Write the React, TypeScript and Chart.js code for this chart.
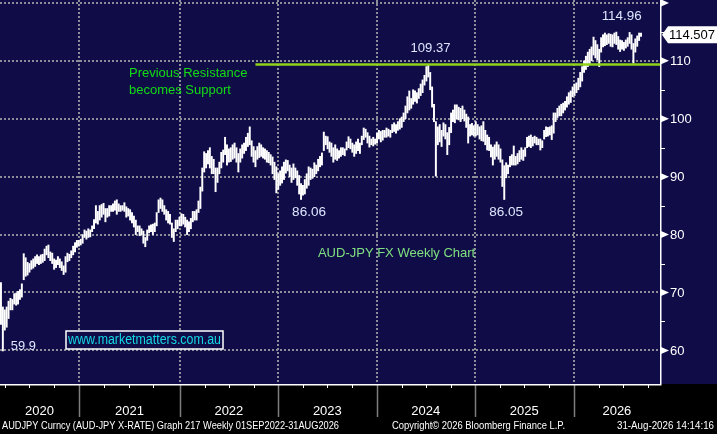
import { useEffect, useRef } from 'react'
import { Chart, registerables } from 'chart.js'

Chart.register(...registerables)

// weekly AUD/JPY bars, week 0 = 9 Mar 2020
const lows = [
  64.5, 59.9, 63.5, 64.0, 65.5, 67.0, 67.0, 68.0, 67.8, 68.0,
  68.8, 69.2, 72.2, 72.8, 73.0, 73.5, 74.0, 74.2, 74.5, 75.0,
  74.8, 75.0, 75.2, 75.5, 76.5, 76.0, 75.5, 75.0, 74.0, 74.3,
  74.8, 74.3, 73.8, 73.1, 73.5, 75.3, 75.5, 76.0, 76.5, 77.0,
  77.8, 78.0, 78.2, 78.5, 79.5, 79.2, 79.5, 79.6, 80.5, 81.0,
  82.0, 81.8, 82.5, 83.0, 83.5, 82.2, 83.0, 83.2, 84.0, 84.0,
  84.2, 83.5, 84.0, 84.0, 84.2, 84.0, 83.0, 83.2, 82.5, 82.0,
  81.3, 80.0, 80.5, 79.8, 80.0, 78.5, 77.9, 79.0, 80.3, 80.5,
  80.0, 80.5, 81.5, 83.8, 84.5, 84.0, 83.5, 82.5, 82.0, 81.8,
  79.5, 78.8, 80.5, 81.0, 81.5, 81.5, 81.8, 81.3, 80.0, 80.5,
  81.0, 82.2, 82.5, 82.5, 83.8, 84.5, 87.5, 90.8, 91.5, 92.2,
  91.5, 90.5, 90.5, 87.4, 89.0, 90.5, 91.5, 92.5, 93.8, 92.0,
  92.5, 92.6, 93.0, 93.2, 92.5, 90.8, 92.5, 93.2, 94.0, 94.5,
  95.2, 95.5, 93.5, 92.5, 91.7, 93.0, 93.3, 93.5, 93.2, 93.0,
  92.5, 92.4, 92.0, 90.5, 89.5, 87.2, 87.8, 88.5, 88.9, 89.5,
  90.6, 91.0, 90.0, 89.0, 89.5, 89.8, 88.5, 87.0, 86.06, 86.8,
  87.0, 88.0, 88.5, 89.5, 89.7, 90.0, 90.5, 91.0, 91.7, 92.0,
  94.5, 95.5, 94.8, 94.2, 93.5, 92.5, 93.0, 92.8, 93.2, 93.5,
  93.8, 93.6, 94.6, 95.0, 94.8, 94.2, 93.5, 94.0, 94.5, 94.0,
  95.5, 96.4, 96.8, 95.8, 95.1, 95.5, 95.3, 95.6, 95.8, 96.5,
  96.0, 96.3, 96.8, 96.8, 97.0, 96.8, 97.6, 97.8, 97.5, 98.0,
  98.2, 98.5, 99.5, 100.0, 101.0, 101.5, 101.8, 102.5, 103.0, 102.7,
  103.5, 104.0, 104.5, 105.8, 106.5, 107.2, 105.0, 102.0, 99.5, 90.1,
  95.5, 96.0, 95.2, 97.0, 96.5, 93.8, 95.5, 97.6, 99.5, 99.3,
  100.0, 99.8, 99.5, 100.0, 99.6, 98.5, 95.8, 97.0, 97.2, 97.0,
  97.0, 97.2, 96.5, 96.2, 96.1, 95.5, 94.6, 94.5, 93.4, 92.0,
  93.0, 93.5, 93.0, 92.5, 88.3, 86.05, 89.8, 90.5, 91.7, 92.0,
  92.0, 92.0, 92.2, 92.6, 93.0, 92.8, 93.5, 95.0, 95.2, 95.0,
  95.3, 95.8, 95.5, 95.5, 94.6, 95.0, 96.5, 96.9, 97.0, 97.2,
  96.4, 97.5, 99.5, 100.2, 100.5, 100.5, 101.0, 101.5, 102.0, 102.5,
  102.8, 103.8, 104.0, 104.5, 105.0, 105.5, 106.5, 108.0, 108.5, 109.0,
  109.5, 110.0, 111.0, 110.5, 110.2, 109.0, 111.5, 112.4, 112.6, 112.8,
  113.0, 112.5, 112.4, 113.0, 112.8, 112.0, 111.6, 112.0, 111.8, 112.2,
  112.5, 113.0, 112.0, 109.6, 111.5, 112.5, 113.5, 114.2,
]

const highs = [
  71.7, 67.5, 67.0, 67.5, 68.5, 69.0, 68.8, 69.8, 69.9, 70.2,
  70.5, 71.5, 76.7, 76.0, 75.2, 75.0, 75.5, 75.8, 76.2, 76.5,
  76.2, 76.5, 76.6, 77.5, 78.0, 78.2, 77.0, 76.8, 75.8, 75.6,
  76.2, 75.8, 75.3, 74.6, 76.2, 76.8, 76.6, 77.2, 78.0, 78.6,
  79.0, 79.0, 79.2, 80.0, 80.8, 80.6, 81.0, 80.8, 81.5, 82.6,
  85.0, 84.0, 85.0, 85.2, 85.4, 84.5, 84.5, 85.0, 85.0, 85.3,
  85.8, 86.0, 85.3, 85.0, 85.0, 85.5, 84.8, 84.5, 84.3, 83.8,
  83.2, 82.5, 81.5, 81.5, 81.0, 80.6, 79.5, 80.8, 81.5, 81.7,
  81.8, 82.0, 83.8, 86.0, 86.3, 86.0, 85.0, 84.3, 84.0, 83.5,
  82.0, 81.0, 82.5, 82.5, 83.0, 83.6, 83.5, 83.0, 82.5, 82.2,
  82.8, 84.0, 84.0, 84.3, 85.8, 88.2, 91.5, 94.3, 94.0, 94.5,
  95.0, 93.5, 93.0, 91.5, 91.5, 92.5, 94.2, 94.6, 96.8, 95.5,
  94.8, 95.0, 95.5, 95.8, 95.0, 94.0, 94.8, 95.5, 95.8, 96.8,
  97.5, 98.6, 96.2, 95.2, 94.5, 95.2, 95.8, 95.5, 95.0, 94.8,
  94.5, 94.2, 93.8, 93.4, 92.5, 91.7, 90.5, 91.0, 91.7, 92.5,
  92.9, 92.8, 92.0, 91.5, 92.2, 91.5, 91.0, 90.2, 88.8, 88.5,
  89.5, 90.5, 91.7, 91.5, 91.3, 92.4, 92.0, 93.0, 93.5, 94.1,
  97.7, 97.0, 96.9, 96.0, 95.8, 95.0, 95.5, 94.8, 94.5, 95.0,
  95.0, 94.8, 96.0, 96.9, 96.5, 95.8, 95.5, 96.0, 96.5, 95.8,
  97.0, 98.4, 98.2, 97.6, 97.0, 96.5, 96.8, 96.5, 97.5, 98.0,
  97.8, 98.0, 98.0, 98.4, 98.2, 98.0, 99.0, 99.3, 99.0, 99.5,
  100.0, 100.3, 101.0, 102.2, 103.8, 104.8, 103.5, 105.0, 104.8, 104.5,
  105.2, 106.0, 106.7, 107.5, 109.0, 109.37, 108.0, 105.5, 102.5, 99.5,
  98.6, 99.0, 98.0, 99.3, 99.0, 97.6, 98.5, 101.0, 101.5, 102.4,
  102.4, 102.0, 101.8, 102.2, 101.5, 100.8, 100.3, 99.0, 99.2, 98.8,
  99.5, 99.0, 98.6, 98.8, 99.5, 98.0, 97.2, 96.8, 95.5, 95.1,
  95.5, 96.0, 95.5, 94.8, 92.9, 91.9, 92.4, 92.0, 93.5, 93.8,
  95.3, 93.5, 94.0, 94.5, 95.0, 94.6, 95.0, 96.8, 97.0, 97.2,
  96.8, 97.0, 96.8, 96.5, 96.5, 96.2, 98.0, 98.6, 98.5, 98.6,
  98.8, 101.0, 101.0, 101.8, 102.2, 102.5, 102.7, 103.0, 103.8, 104.5,
  104.8, 105.5, 106.0, 106.2, 107.0, 108.0, 109.0, 110.0, 110.8, 111.5,
  112.0, 112.4, 114.1, 113.5, 112.8, 112.0, 114.0, 114.5, 114.8, 114.5,
  114.7, 114.6, 114.5, 114.8, 114.96, 114.2, 113.6, 113.5, 113.2, 113.6,
  114.0, 114.9, 114.5, 113.0, 113.8, 114.3, 114.8, 114.8,
]

const yearLabels = ['2020', '2021', '2022', '2023', '2024', '2025', '2026']
// week index where each new year starts
const yearStarts = [41.1, 94.2, 145.8, 197.9, 249.5, 301.6]
const yTicks = [60, 70, 80, 90, 100, 110, 120]
const yTickLabels = ['60', '70', '80', '90', '100', '110', '']

const supportLevel = 109.37
const supportFrom = 134
const lastPrice = 114.507

const peakNotes = [
  { text: '109.37', at: 226.2, value: 109.37 },
  { text: '114.96', at: 326.8, value: 114.96 },
]
const troughNotes = [
  { text: '86.06', at: 162.2, value: 86.06 },
  { text: '86.05', at: 266, value: 86.05 },
]
const startNote = { text: '59.9', at: 1, value: 59.9 }

const X_MIN = -0.5
const X_MAX = 347
const WEEKS_PER_QUARTER = 13.04

const NAVY = '#100c48'
const GRID = '#8e8e9a'
const FONT = '"Liberation Sans", Arial, sans-serif'

const frame = {
  id: 'bbgFrame',
  beforeDraw(chart: any) {
    const { ctx, width, height, chartArea } = chart
    ctx.save()
    ctx.fillStyle = '#000'
    ctx.fillRect(0, 0, width, height)
    ctx.fillStyle = NAVY
    ctx.fillRect(0, 0, width, chartArea.bottom)
    ctx.restore()
  },
  afterDraw(chart: any) {
    const { ctx, width, chartArea } = chart
    const xs = chart.scales.x
    const ys = chart.scales.y
    const { left, right, bottom } = chartArea
    const px = (v: number) => xs.getPixelForValue(v)
    const py = (v: number) => ys.getPixelForValue(v)

    ctx.save()

    // year separators + quarter ticks under the plot
    const bounds = [X_MIN, ...yearStarts, X_MAX]
    ctx.strokeStyle = '#7d7d7d'
    ctx.lineWidth = 1.5
    yearStarts.forEach((s) => {
      ctx.beginPath()
      ctx.moveTo(Math.round(px(s)) + 0.5, bottom)
      ctx.lineTo(Math.round(px(s)) + 0.5, bottom + 33)
      ctx.stroke()
    })
    ctx.strokeStyle = '#fff'
    ctx.lineWidth = 1
    for (let b = 0; b < bounds.length - 1; b++) {
      const from = b === 0 ? bounds[1] : bounds[b]
      for (let k = 1; k <= 3; k++) {
        const q = b === 0 ? from - k * WEEKS_PER_QUARTER : from + k * WEEKS_PER_QUARTER
        if (q <= X_MIN || q >= X_MAX) continue
        const qx = Math.round(px(q)) + 0.5
        ctx.beginPath()
        ctx.moveTo(qx, bottom)
        ctx.lineTo(qx, bottom + 4)
        ctx.stroke()
      }
    }

    // axis lines
    ctx.strokeStyle = '#fff'
    ctx.lineWidth = 1.5
    ctx.beginPath()
    ctx.moveTo(right + 0.75, 0)
    ctx.lineTo(right + 0.75, bottom + 1)
    ctx.moveTo(left, bottom + 0.75)
    ctx.lineTo(right + 1.5, bottom + 0.75)
    ctx.stroke()

    // right axis triangles, labels and minor ticks
    ctx.fillStyle = '#fff'
    ctx.strokeStyle = '#fff'
    ctx.font = `13px ${FONT}`
    ctx.textBaseline = 'middle'
    ctx.textAlign = 'left'
    yTicks.forEach((v, i) => {
      const y = py(v)
      ctx.beginPath()
      ctx.moveTo(right + 1, y - 3.5)
      ctx.lineTo(right + 9, y)
      ctx.lineTo(right + 1, y + 3.5)
      ctx.closePath()
      ctx.fill()
      if (yTickLabels[i]) ctx.fillText(yTickLabels[i], right + 10, y + 1)
      if (i < yTicks.length - 1) {
        const ym = Math.round(py((v + yTicks[i + 1]) / 2)) + 0.5
        ctx.lineWidth = 1
        ctx.beginPath()
        ctx.moveTo(right, ym)
        ctx.lineTo(right + 5, ym)
        ctx.stroke()
      }
    })

    // last price box
    const lp = py(lastPrice)
    ctx.fillStyle = '#fff'
    ctx.beginPath()
    ctx.moveTo(right + 2, lp)
    ctx.lineTo(right + 8, lp - 8.5)
    ctx.lineTo(width, lp - 8.5)
    ctx.lineTo(width, lp + 8.5)
    ctx.lineTo(right + 8, lp + 8.5)
    ctx.closePath()
    ctx.fill()
    ctx.fillStyle = '#000'
    ctx.font = `13px ${FONT}`
    ctx.fillText(lastPrice.toFixed(3), right + 9, lp + 0.5)

    // high / low labels
    ctx.fillStyle = '#dfe7ff'
    ctx.font = `13.5px ${FONT}`
    ctx.textAlign = 'center'
    peakNotes.forEach((n) => ctx.fillText(n.text, px(n.at), py(n.value) - 16, 40))
    troughNotes.forEach((n) => ctx.fillText(n.text, px(n.at), py(n.value) + 13, 34))
    ctx.textAlign = 'left'
    ctx.fillText(startNote.text, px(startNote.at) + 8, py(startNote.value) - 5, 25)

    // commentary
    ctx.fillStyle = '#14dc14'
    ctx.font = `13px ${FONT}`
    ctx.fillText('Previous Resistance', px(67.4), py(107.75))
    ctx.fillText('becomes Support', px(67.4), py(104.9))
    ctx.fillStyle = '#7fe07f'
    ctx.textAlign = 'center'
    ctx.fillText('AUD-JPY FX Weekly Chart', px(208.3), py(76.67))

    // watermark
    const wx = left + 66
    const wy = bottom - 53
    ctx.strokeStyle = '#fff'
    ctx.lineWidth = 1.5
    ctx.fillStyle = NAVY
    ctx.fillRect(wx, wy, 157, 18)
    ctx.strokeRect(wx, wy, 157, 18)
    ctx.fillStyle = '#14d8e6'
    ctx.font = `14px ${FONT}`
    ctx.textAlign = 'center'
    ctx.fillText('www.marketmatters.com.au', wx + 78.5, wy + 9.5, 153)

    // footer
    ctx.fillStyle = '#fff'
    ctx.font = `10.5px ${FONT}`
    const fy = bottom + 42
    ctx.textAlign = 'left'
    ctx.fillText('AUDJPY Curncy (AUD-JPY X-RATE) Graph 217 Weekly 01SEP2022-31AUG2026', 2, fy, 337)
    ctx.fillText('Copyright\u00a9 2026 Bloomberg Finance L.P.', 392, fy, 173)
    ctx.textAlign = 'right'
    ctx.fillText('31-Aug-2026 14:14:16', width - 3, fy, 97)

    ctx.restore()
  },
}

const App: React.FC = () => {
  const canvasRef = useRef<HTMLCanvasElement>(null)
  const chartRef = useRef<Chart | null>(null)

  useEffect(() => {
    if (!canvasRef.current) return
    if (chartRef.current) chartRef.current.destroy()

    const bounds = [X_MIN, ...yearStarts, X_MAX]
    const yearCentres = yearLabels.map((_, i) => (bounds[i] + bounds[i + 1]) / 2)

    chartRef.current = new Chart(canvasRef.current, {
      type: 'bar',
      data: {
        datasets: [
          {
            type: 'line',
            data: [
              { x: supportFrom, y: supportLevel },
              { x: X_MAX, y: supportLevel },
            ],
            borderColor: '#8fd21b',
            borderWidth: 2.5,
            pointRadius: 0,
            order: 1,
          },
          {
            type: 'bar',
            data: lows.map((lo, i) => ({ x: i, y: [lo, highs[i]] })),
            backgroundColor: '#ffffff',
            borderWidth: 0,
            barThickness: 1.3,
            grouped: false,
            order: 2,
          },
        ] as any,
      },
      options: {
        animation: false,
        responsive: true,
        maintainAspectRatio: false,
        events: [],
        layout: { padding: 0 },
        plugins: {
          legend: { display: false },
          tooltip: { enabled: false },
        },
        scales: {
          x: {
            type: 'linear',
            position: 'bottom',
            min: X_MIN,
            max: X_MAX,
            offset: false,
            grid: { display: false, offset: false },
            border: { display: false },
            afterBuildTicks: (scale: any) => {
              scale.ticks = yearCentres.map((v) => ({ value: v }))
            },
            afterFit: (scale: any) => {
              scale.height = 50
            },
            ticks: {
              autoSkip: false,
              maxRotation: 0,
              padding: 12,
              color: '#ffffff',
              font: { family: FONT, size: 13 },
              callback: (_v: any, i: number) => yearLabels[i],
            },
          },
          xg: {
            type: 'linear',
            position: 'bottom',
            min: X_MIN,
            max: X_MAX,
            offset: false,
            grid: { color: GRID, lineWidth: 2, drawTicks: false, offset: false },
            border: { display: false, dash: [2, 2] },
            afterBuildTicks: (scale: any) => {
              scale.ticks = yearStarts.map((v) => ({ value: v }))
            },
            afterFit: (scale: any) => {
              scale.height = 0
            },
            ticks: { display: false },
          },
          y: {
            type: 'linear',
            position: 'right',
            min: 54.2,
            max: 120.5,
            grid: { color: GRID, lineWidth: 2, drawTicks: false },
            border: { display: false, dash: [2, 2] },
            afterBuildTicks: (scale: any) => {
              scale.ticks = yTicks.map((v) => ({ value: v }))
            },
            afterFit: (scale: any) => {
              scale.width = 57
            },
            ticks: { display: false },
          },
        },
      } as any,
      plugins: [frame],
    })

    return () => {
      chartRef.current?.destroy()
      chartRef.current = null
    }
  }, [])

  return (
    <div style={{ position: 'absolute', left: 0, top: 0, width: 717, height: 434 }}>
      <canvas ref={canvasRef} />
    </div>
  )
}

export default App
